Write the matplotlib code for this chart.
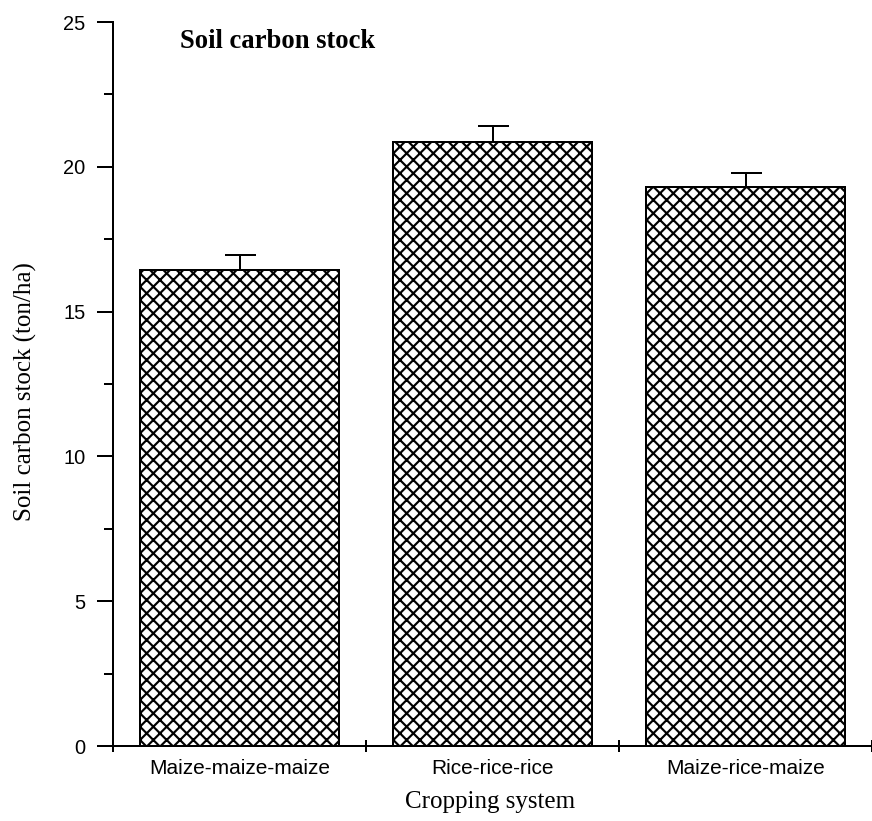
import numpy as np
import matplotlib.pyplot as plt

# data
systems = ["Maize-maize-maize", "Rice-rice-rice", "Maize-rice-maize"]
carbon_stock = [16.45, 20.85, 19.3]
stock_err = [0.5, 0.55, 0.47]

DPI = 120
plt.rcParams['hatch.linewidth'] = 1.3
plt.rcParams['font.family'] = 'Liberation Sans'

fig = plt.figure(figsize=(872 / DPI, 821 / DPI), dpi=DPI)
ax = fig.add_axes([113 / 872, 1 - 746 / 821, 1 - 113 / 872, (746 - 22) / 821])

x = np.arange(len(systems))
ax.bar(x, carbon_stock, width=0.79, color='white', edgecolor='black',
       linewidth=1.2, hatch='xxx', zorder=2)
ax.errorbar(x, carbon_stock, yerr=[np.zeros(len(x)), stock_err], fmt='none',
            ecolor='black', elinewidth=1.2, capsize=9.3, capthick=1.2, zorder=1)

ax.set_xlim(-0.5, -0.5 + 759 / 256)
ax.set_ylim(0, 25)

ax.spines['top'].set_visible(False)
ax.spines['right'].set_visible(False)
ax.spines['left'].set_linewidth(1.2)
ax.spines['bottom'].set_linewidth(1.2)

ax.set_yticks(np.arange(0, 26, 5))
ax.set_yticks(np.arange(2.5, 25, 5), minor=True)
ax.tick_params(axis='y', which='major', length=9.6, width=1.2, pad=7, labelsize=12)
ax.tick_params(axis='y', which='minor', length=5.4, width=1.2)

# category boundaries get the tick marks, labels sit in the middle
ax.set_xticks([-0.5, 0.5, 1.5, 2.5])
ax.set_xticklabels([])
ax.set_xticks(x, minor=True)
ax.set_xticklabels(systems, minor=True)
ax.tick_params(axis='x', which='major', direction='inout', length=7.2, width=1.2)
ax.tick_params(axis='x', which='minor', length=0, pad=8, labelsize=12.5)

ax.set_ylabel('Soil carbon stock (ton/ha)', family='Liberation Serif', fontsize=15)
ax.yaxis.set_label_coords(-0.1, 0.49)
ax.set_xlabel('Cropping system', family='Liberation Serif', fontsize=15)
ax.xaxis.set_label_coords(0.497, -0.062)

ax.text(0.088, 0.964, 'Soil carbon stock', transform=ax.transAxes,
        family='Liberation Serif', fontweight='bold', fontsize=16, va='baseline')

fig.savefig('out.png', dpi=DPI)
